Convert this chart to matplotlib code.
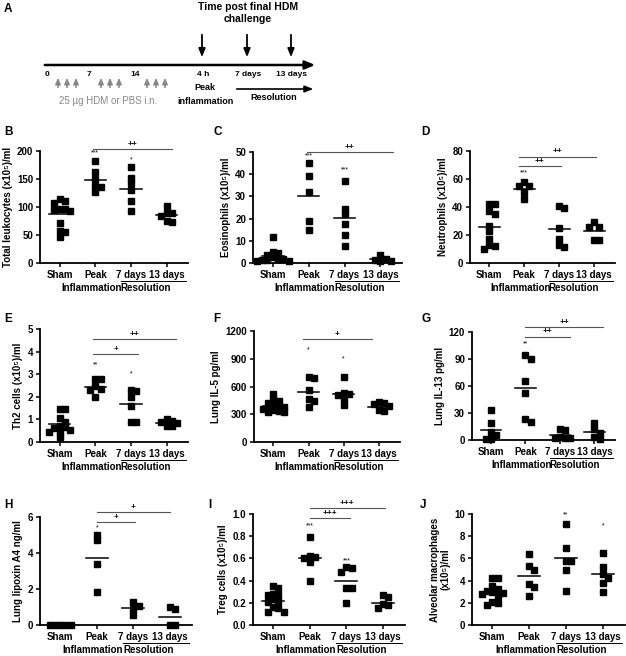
import numpy as np
import matplotlib.pyplot as plt
from matplotlib.transforms import offset_copy

plt.rcParams['font.family'] = ['Liberation Sans', 'DejaVu Sans']
plt.rcParams['font.weight'] = 'bold'

W, H = 626, 656

groups = ['Sham', 'Peak', '7 days', '13 days']

# panel data (values per group)
leuko = [[115, 110, 108, 97, 96, 95, 93, 72, 57, 55, 47],
         [183, 162, 150, 138, 136, 126],
         [171, 152, 142, 130, 110, 92],
         [102, 90, 89, 84, 75, 74]]
eos = [[11.5, 4.8, 4.5, 3.5, 2.5, 2.0, 1.8, 1.5, 1.2, 1.0, 0.8],
       [45, 39, 32, 19, 15],
       [37, 24.5, 22, 17.5, 12.5, 7.5],
       [3.5, 2.0, 1.5, 1.0, 0.8]]
neut = [[42, 42, 37, 35, 26.5, 23, 17, 13, 12.5, 10],
        [57.5, 55, 55, 50.5, 46],
        [40.5, 39, 25, 17, 13, 11.5],
        [29, 26, 26, 16.5, 16.5]]
th2 = [[1.48, 1.48, 1.07, 0.9, 0.72, 0.65, 0.6, 0.55, 0.45, 0.45, 0.22],
       [2.8, 2.8, 2.5, 2.35, 2.3, 2.0],
       [2.3, 2.25, 2.0, 1.6, 0.9, 0.88],
       [1.0, 0.95, 0.9, 0.85, 0.7, 0.7]]
il5 = [[520, 460, 440, 420, 400, 390, 380, 370, 360, 345, 335, 325, 320],
       [705, 687, 567, 470, 445, 380],
       [705, 531, 517, 506, 452, 397],
       [434, 423, 416, 387, 343, 336]]
il13 = [[33, 18.7, 8.6, 6, 1, 1],
        [94.4, 89.6, 65.5, 51.8, 23, 20.4],
        [12, 11, 3, 2, 2, 2],
        [18.7, 12.4, 7.5, 3, 1]]
lipox = [[0, 0, 0, 0, 0],
         [5.0, 4.7, 3.4, 1.85],
         [1.3, 1.05, 0.9, 0.55],
         [1.0, 0.87, 0, 0]]
treg = [[0.355, 0.335, 0.28, 0.27, 0.27, 0.23, 0.22, 0.21, 0.16, 0.15, 0.12, 0.12],
        [0.79, 0.62, 0.61, 0.6, 0.57, 0.4],
        [0.52, 0.51, 0.48, 0.33, 0.33, 0.2],
        [0.27, 0.25, 0.19, 0.18, 0.15]]
macro = [[4.2, 4.2, 3.5, 3.2, 3.1, 3.0, 2.9, 2.8, 2.6, 2.1, 2.0, 1.8],
         [6.4, 5.3, 5.0, 3.7, 3.4, 2.6],
         [9.1, 6.9, 5.8, 5.8, 5.0, 3.1],
         [6.5, 5.2, 4.6, 4.2, 3.8, 3.0]]
# mean lines as drawn
means = {
    'B': [87, 149, 133, 85], 'C': [3.3, 30, 20.2, 1.9], 'D': [25.5, 52.5, 24.3, 22.8],
    'E': [0.79, 2.43, 1.67, 0.85], 'F': [390, 542, 517, 380], 'G': [11.6, 57.8, 6.0, 8.6],
    'H': [0, 3.75, 0.94, 0.46], 'I': [0.22, 0.6, 0.4, 0.195], 'J': [3.0, 4.4, 6.0, 4.6],
}

panels = [
    # key, data, ylabel, yticks, fmt, rect(px l,t,r,b), stars, bars
    ('B', leuko, 'Total leukocytes (x10⁵)/ml', [0, 50, 100, 150, 200], '%d', (40, 151, 188, 263),
     [(1, 190, '***'), (2, 178, '*')], [(0.95, 3.15, 203, '++')]),
    ('C', eos, 'Eosinophils (x10⁵)/ml', [0, 10, 20, 30, 40, 50], '%d', (253, 152, 402, 263),
     [(1, 46.5, '***'), (2, 40.5, '***')], [(0.95, 3.35, 50, '++')]),
    ('D', neut, 'Neutrophils (x10⁵)/ml', [0, 20, 40, 60, 80], '%d', (470, 151, 615, 263),
     [(1, 62, '***')], [(0.85, 2.05, 69.5, '++'), (0.85, 3.05, 76, '++')]),
    ('E', th2, 'Th2 cells (x10⁵)/ml', [0, 1, 2, 3, 4, 5], '%d', (40, 329, 188, 442),
     [(1, 3.25, '**'), (2, 2.85, '*')], [(0.95, 2.2, 3.9, '+'), (0.95, 3.25, 4.55, '++')]),
    ('F', il5, 'Lung IL-5 pg/ml', [0, 300, 600, 900, 1200], '%d', (254, 331, 400, 442),
     [(1, 960, '*'), (2, 860, '*')], [(0.85, 2.8, 1110, '+')]),
    ('G', il13, 'Lung IL-13 pg/ml', [0, 30, 60, 90, 120], '%d', (472, 332, 615, 440),
     [(1, 103, '**')], [(1.0, 2.3, 115, '++'), (1.0, 3.25, 126, '++')]),
    ('H', lipox, 'Lung lipoxin A4 ng/ml', [0, 2, 4, 6], '%d', (40, 517, 192, 625),
     [(1, 5.2, '*')], [(1.0, 2.05, 5.72, '+'), (1.0, 3.0, 6.3, '+')]),
    ('I', treg, 'Treg cells (x10⁵)/ml', [0, 0.2, 0.4, 0.6, 0.8, 1.0], '%.1f', (253, 514, 405, 625),
     [(1, 0.86, '***'), (2, 0.55, '***')], [(1.0, 2.1, 0.965, '+++'), (1.0, 3.05, 1.05, '+++')]),
    ('J', macro, 'Alveolar macrophages\n(x10⁵)/ml', [0, 2, 4, 6, 8, 10], '%d', (472, 514, 625, 625),
     [(2, 9.6, '**'), (3, 8.6, '*')], []),
]

letters = {'B': (4, 132), 'C': (213, 132), 'D': (421, 132), 'E': (4, 319), 'F': (213, 319),
           'G': (421, 319), 'H': (4, 505), 'I': (208, 505), 'J': (420, 505)}


def swarm(vals, ppu, step, msz=4.6):
    order = np.argsort(vals)[::-1]
    placed = []
    offs = np.zeros(len(vals))
    for i in order:
        y = vals[i] * ppu
        for k in [0, 1, -1, 2, -2, 3, -3, 4, -4]:
            if all(abs(k - pk) >= 1 or abs(y - py) >= msz for pk, py in placed):
                break
        offs[i] = k * step
        placed.append((k, y))
    return offs


fig = plt.figure(figsize=(W / 100, H / 100), dpi=100)

for key, data, ylab, yt, fmt, (l, t, r, b), stars, bars in panels:
    ax = fig.add_axes([l / W, 1 - b / H, (r - l) / W, (b - t) / H])
    xlo, xhi = -0.55, 3.6
    ymax = yt[-1]
    ax.set_xlim(xlo, xhi)
    ax.set_ylim(0, ymax)
    ppu = (b - t) / ymax
    step = 5.3 / ((r - l) / (xhi - xlo))
    for gi, vals in enumerate(data):
        vals = np.array(vals, dtype=float)
        offs = swarm(vals, ppu, step)
        ax.plot(gi + offs, vals, 's', color='black', ms=3.7, clip_on=False, zorder=3)
        ax.plot([gi - 0.3, gi + 0.3], [means[key][gi]] * 2, color='black', lw=1.1,
                clip_on=False, zorder=2)
    for gx, gy, s in stars:
        ax.text(gx, gy, s, ha='center', va='bottom', fontsize=5, fontweight='normal')
    for x1, x2, by, s in bars:
        ax.plot([x1, x2], [by, by], color='#555555', lw=0.8, clip_on=False)
        ax.text((x1 + x2) / 2, by + ymax * 0.01, s, ha='center', va='bottom',
                fontsize=6, fontweight='bold')
    ax.spines['top'].set_visible(False)
    ax.spines['right'].set_visible(False)
    ax.spines['left'].set_linewidth(1.3)
    ax.spines['bottom'].set_linewidth(1.3)
    ax.set_yticks(yt)
    ax.set_yticklabels([fmt % v for v in yt], fontsize=7, fontweight='bold')
    ax.set_xticks(range(4))
    ax.set_xticklabels(groups, fontsize=7, fontweight='bold')
    ax.tick_params(length=3, width=1.1, pad=2)
    ax.set_ylabel(ylab, fontsize=7, fontweight='bold', labelpad=3, linespacing=1.0)
    tr = offset_copy(ax.get_xaxis_transform(), fig=fig, y=-18, units='dots')
    ax.plot([1.72, 3.53], [0, 0], color='black', lw=0.7, transform=tr, clip_on=False)
    tr2 = offset_copy(ax.get_xaxis_transform(), fig=fig, y=-25, units='dots')
    ax.text(0.9, 0, 'Inflammation', transform=tr2, ha='center', va='center', fontsize=7)
    ax.text(2.42, 0, 'Resolution', transform=tr2, ha='center', va='center', fontsize=7)
    lx, ly = letters[key]
    fig.text(lx / W, 1 - ly / H, key, fontsize=8.5, fontweight='bold', ha='left', va='center')

# panel A: schematic timeline
axa = fig.add_axes([0, 1 - 120 / H, 1, 120 / H])
axa.set_xlim(0, W)
axa.set_ylim(120, 0)
axa.axis('off')
fig.text(4 / W, 1 - 9 / H, 'A', fontsize=8.5, fontweight='bold', ha='left', va='center')

axa.annotate('', xy=(318, 65), xytext=(42, 65),
             arrowprops=dict(arrowstyle='-|>,head_length=0.6,head_width=0.25', lw=1.8, color='black'))
day_lbl = ['0', '7', '14']
day_x = [47, 89, 135]
for s, x in zip(day_lbl, day_x):
    axa.text(x, 75, s, ha='center', va='center', fontsize=6)
for x0 in [58, 101, 147]:
    for k in range(3):
        axa.annotate('', xy=(x0 + 9 * k, 75), xytext=(x0 + 9 * k, 90),
                     arrowprops=dict(arrowstyle='-|>,head_length=0.35,head_width=0.15',
                                     lw=1.2, color='#888888'))
axa.text(108, 101, '25 µg HDM or PBS i.n.', ha='center', va='center', fontsize=7,
         fontweight='normal', color='#888888')

chal_lbl = ['4 h', '7 days', '13 days']
chal_x = [202, 247, 291]
for s, x in zip(chal_lbl, chal_x):
    axa.annotate('', xy=(x, 60), xytext=(x, 32),
                 arrowprops=dict(arrowstyle='-|>,head_length=0.5,head_width=0.2', lw=1.3, color='black'))
    axa.text(x + 1, 75, s, ha='center', va='center', fontsize=6)
axa.text(248, 7, 'Time post final HDM', ha='center', va='center', fontsize=7.5)
axa.text(248, 19, 'challenge', ha='center', va='center', fontsize=7.5)
axa.text(205, 88, 'Peak', ha='center', va='center', fontsize=6.5)
axa.text(205, 101, 'inflammation', ha='center', va='center', fontsize=6.5)
axa.annotate('', xy=(316, 89), xytext=(234, 89),
             arrowprops=dict(arrowstyle='-|>,head_length=0.5,head_width=0.2', lw=1.2, color='black'))
axa.text(274, 98, 'Resolution', ha='center', va='center', fontsize=6.5)

fig.savefig('out.png', dpi=100)
